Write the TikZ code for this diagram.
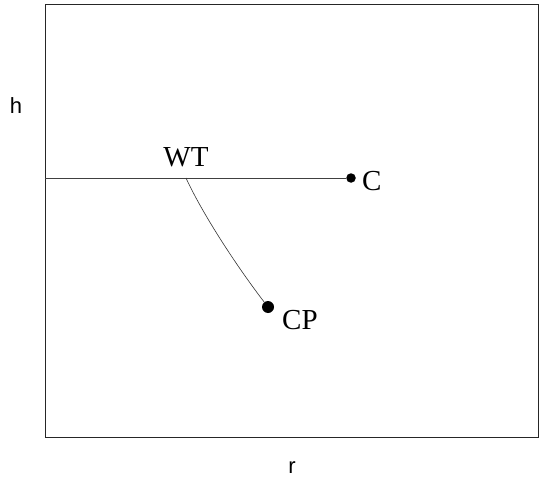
\documentclass[tikz,border=0pt]{standalone}
\usepackage{fontspec}
\setmainfont{Liberation Serif}
\setsansfont{Liberation Sans}
\begin{document}
\begin{tikzpicture}[x=1pt,y=-1pt,every node/.style={inner sep=0pt},lbl/.style={font=\fontsize{29}{32}\selectfont},axlbl/.style={font=\sffamily\fontsize{22}{26}\selectfont},dot/.style={circle,fill=black,inner sep=0pt,minimum size=#1}]
\useasboundingbox (0,0) rectangle (540,481);
\draw[line width=1pt,black!85] (45,5) rectangle (538,437);
\node[axlbl] (h) at (16,106) {h};
\node[axlbl] (r) at (292,468) {r};
\coordinate (left) at (45,178);
\node[dot=9.5pt] (c) at (351,178) {};
\node[dot=12pt] (cp) at (268,307) {};
\coordinate (wt) at (186,178);
\node[lbl,anchor=base] (wtl) at (186,167) {WT};
\node[lbl,anchor=base west] (cl) at (362,190) {C};
\node[lbl,anchor=base west] (cpl) at (282,329) {CP};
\draw[line width=0.8pt,black!75] (left)--(c);
\draw[line width=0.6pt,black!80] (wt) .. controls (203,215) and (238,268) .. (cp);
\end{tikzpicture}
\end{document}
